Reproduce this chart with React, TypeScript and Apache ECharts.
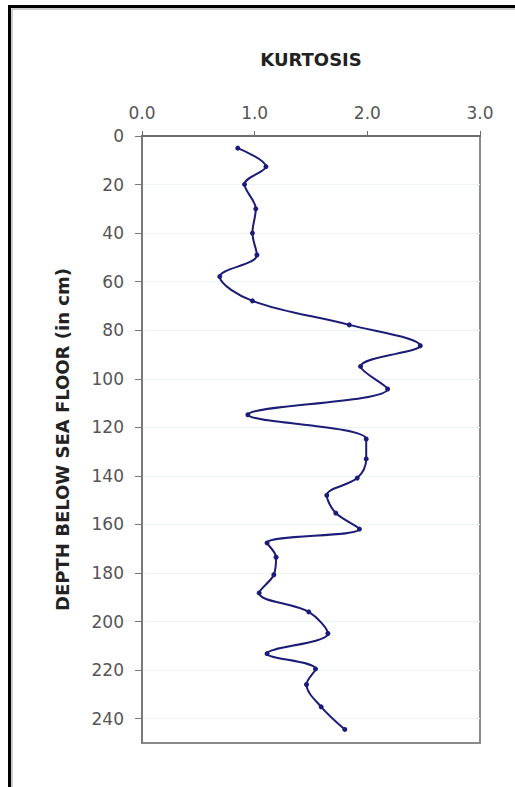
import React, { useEffect, useRef } from "react";
import * as echarts from "echarts";

const depthCm = [5, 12.6, 19.9, 30, 40, 49, 57.9, 67.9, 77.8, 86.4, 94.9, 104.2, 114.8, 124.8, 133, 140.9, 148, 155.3, 161.9, 167.6, 173.5, 180.7, 188.2, 196, 204.9, 213.2, 219.5, 225.9, 235.1, 244.4];
const kurtosis = [0.85, 1.1, 0.91, 1.01, 0.98, 1.02, 0.69, 0.98, 1.84, 2.47, 1.94, 2.18, 0.94, 1.99, 1.99, 1.91, 1.64, 1.72, 1.93, 1.11, 1.19, 1.17, 1.04, 1.48, 1.65, 1.11, 1.54, 1.46, 1.59, 1.8];
const depthTicks = [0, 20, 40, 60, 80, 100, 120, 140, 160, 180, 200, 220, 240];
const xTitle = "KURTOSIS";
const yTitle = "DEPTH BELOW SEA FLOOR (in cm)";

export default function App() {
  const ref = useRef<HTMLDivElement>(null);
  useEffect(() => {
    if (!ref.current) return;
    const chart = echarts.init(ref.current, null, { renderer: "svg" });
    const font = "'DejaVu Sans', sans-serif";
    chart.setOption({
      animation: false,
      backgroundColor: "#ffffff",
      grid: {
        left: 142,
        top: 136,
        width: 338,
        height: 607,
        show: true,
        borderColor: "#8a8a8a",
        borderWidth: 2,
        backgroundColor: "transparent",
      },
      xAxis: {
        type: "value",
        position: "top",
        min: 0,
        max: 3,
        interval: 1,
        name: xTitle,
        nameLocation: "middle",
        nameGap: 68,
        nameTextStyle: { fontFamily: font, fontWeight: "bold", fontSize: 18, color: "#222" },
        axisLine: { show: true, lineStyle: { color: "#6e6e6e", width: 2 } },
        axisTick: { show: true, length: 5, lineStyle: { color: "#6e6e6e", width: 1 } },
        axisLabel: {
          margin: 15,
          fontFamily: font,
          fontSize: 17,
          color: "#555",
          formatter: (v: number) => v.toFixed(1),
        },
        splitLine: { show: false },
      },
      yAxis: {
        type: "value",
        inverse: true,
        min: 0,
        max: 250,
        interval: 20,
        name: yTitle,
        nameLocation: "middle",
        nameGap: 71,
        nameRotate: 90,
        nameTextStyle: { fontFamily: font, fontWeight: "bold", fontSize: 18, color: "#222" },
        axisLine: { show: true, lineStyle: { color: "#7a7a7a", width: 2 } },
        axisTick: {
          show: true,
          length: 7,
          customValues: depthTicks,
          lineStyle: { color: "#7a7a7a", width: 1 },
        },
        axisLabel: {
          margin: 18,
          fontFamily: font,
          fontSize: 17,
          color: "#555",
          customValues: depthTicks,
        },
        splitLine: { show: true, lineStyle: { color: "#eaf6f4", width: 1 } },
      },
      series: [
        {
          type: "line",
          data: depthCm.map((d, i) => [kurtosis[i], d]),
          smooth: 0.35,
          symbol: "circle",
          symbolSize: 5,
          lineStyle: { color: "#1b1b78", width: 2 },
          itemStyle: { color: "#1b1b78" },
        },
      ],
      graphic: [
        { type: "line", shape: { x1: 9.5, y1: 5, x2: 9.5, y2: 787 }, style: { stroke: "#000", lineWidth: 3 } },
        { type: "line", shape: { x1: 8, y1: 6.5, x2: 515, y2: 6.5 }, style: { stroke: "#000", lineWidth: 3 } },
        { type: "line", shape: { x1: 12, y1: 9, x2: 12, y2: 787 }, style: { stroke: "#9a9a9a", lineWidth: 1 } },
        { type: "line", shape: { x1: 12, y1: 9, x2: 515, y2: 9 }, style: { stroke: "#9a9a9a", lineWidth: 1 } },
      ],
    });
    return () => chart.dispose();
  }, []);
  return (
    <div
      ref={ref}
      style={{ position: "fixed", left: 0, top: 0, width: 515, height: 787, background: "#fff" }}
    />
  );
}
